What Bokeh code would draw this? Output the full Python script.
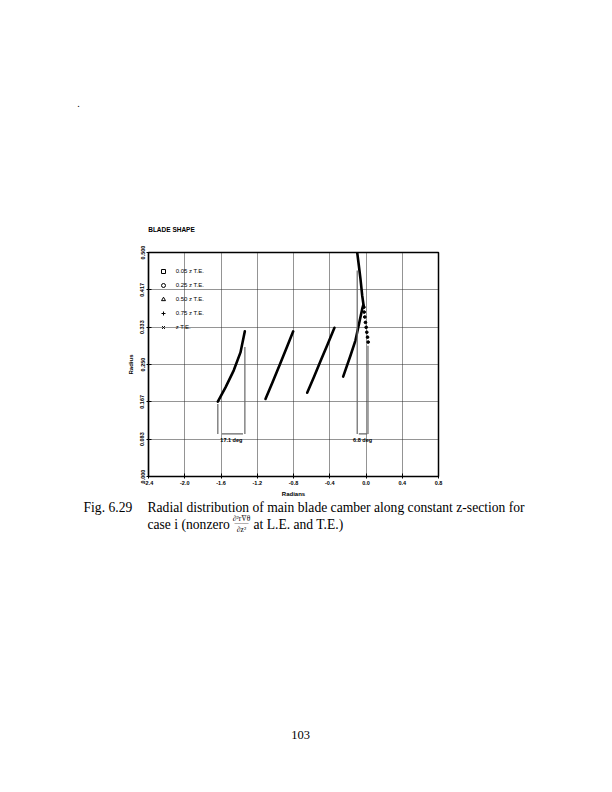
from bokeh.plotting import figure
from bokeh.models import FixedTicker, Label, Legend, LegendItem, Range1d
from bokeh.layouts import column, row
from bokeh.embed import file_html
from bokeh.resources import INLINE
import math
import numpy as np

# ---------------- data ----------------
series_labels = ["0.05 z T.E.", "0.25 z T.E.", "0.50 z T.E.", "0.75 z T.E.", "z T.E."]
series_markers = ["square", "circle", "triangle", "cross", "x"]

# radius / camber angle (radians) for each z-section
r1 = [0.167, 0.199, 0.237, 0.277, 0.324]
t1 = [-1.635, -1.550, -1.459, -1.385, -1.337]

r2 = [0.173, 0.211, 0.249, 0.287, 0.324]
t2 = [-1.109, -1.030, -0.953, -0.877, -0.803]

r3 = [0.187, 0.223, 0.260, 0.296, 0.332]
t3 = [-0.649, -0.572, -0.497, -0.422, -0.348]

r4 = [0.223, 0.270, 0.304, 0.340, 0.374, 0.382]
t4 = [-0.252, -0.171, -0.116, -0.078, -0.042, -0.031]

r5 = [0.500, 0.471, 0.441, 0.404, 0.378, 0.367, 0.356, 0.344, 0.333, 0.322, 0.311, 0.300]
t5 = [-0.097, -0.079, -0.061, -0.042, -0.024, -0.020, -0.013, -0.006, 0.002, 0.009, 0.017, 0.024]
t5_solid_count = 5

# wrap angle brackets (degrees) for first and last sections
wrap_deg = [17.1, 6.8]
wrap_labels = ["17.1 deg", "6.8 deg"]

x_ticks = [-2.4, -2.0, -1.6, -1.2, -0.8, -0.4, 0.0, 0.4, 0.8]
x_tick_labels = ["-2.4", "-2.0", "-1.6", "-1.2", "-0.8", "-0.4", "0.0", "0.4", "0.8"]
y_ticks = [0.0, 0.5 / 6, 1.0 / 6, 0.25, 2.0 / 6, 2.5 / 6, 0.5]
y_tick_labels = ["0.000", "0.083", "0.167", "0.250", "0.333", "0.417", "0.500"]

SANS = "Liberation Sans"
SERIF = "Liberation Serif"
W = 596
TOP_H = 240
CHART_TOP, FRAME_W, FRAME_H, CHART_BOT = 12, 290, 224, 22
CHART_H = CHART_TOP + FRAME_H + CHART_BOT
Y0 = TOP_H + CHART_H
BOT_H = 776 - Y0


def blank_fig(h):
    f = figure(width=W, height=h, x_range=Range1d(0, W), y_range=Range1d(0, h),
               output_backend="svg", toolbar_location=None,
               x_axis_location=None, y_axis_location=None,
               min_border=0, min_border_left=0, min_border_right=0,
               min_border_top=0, min_border_bottom=0)
    f.outline_line_color = None
    f.xgrid.visible = False
    f.ygrid.visible = False
    f.background_fill_color = "white"
    f.border_fill_color = "white"
    return f


def put(f, h, px, py, text, **kw):
    f.add_layout(Label(x=px, y=h - py, text=text, text_color="black", **kw))


# ---------------- top strip ----------------
top = blank_fig(TOP_H)
put(top, TOP_H, 78, 103, ".", text_font=SERIF, text_font_size="10px",
    text_baseline="middle", text_align="center")
put(top, TOP_H, 147.7, 229, "BLADE SHAPE", text_font=SANS, text_font_size="6.5px",
    text_font_style="bold", text_baseline="middle")

# ---------------- chart ----------------
p = figure(frame_width=FRAME_W, frame_height=FRAME_H,
           x_range=Range1d(-2.4, 0.8), y_range=Range1d(0.0, 0.5),
           output_backend="svg", toolbar_location=None,
           min_border_left=148, min_border_right=W - 148 - FRAME_W,
           min_border_top=CHART_TOP, min_border_bottom=CHART_BOT)
p.background_fill_color = "white"
p.border_fill_color = "white"
p.outline_line_color = "black"
p.outline_line_width = 1.5

p.xaxis.ticker = FixedTicker(ticks=x_ticks)
p.xaxis.major_label_overrides = {t: l for t, l in zip(x_ticks, x_tick_labels)}
p.yaxis.ticker = FixedTicker(ticks=y_ticks)
p.yaxis.major_label_overrides = {t: l for t, l in zip(y_ticks, y_tick_labels)}
p.yaxis.major_label_orientation = "vertical"

for ax in (p.xaxis[0], p.yaxis[0]):
    ax.axis_line_color = "black"
    ax.axis_line_width = 1.2
    ax.major_tick_in = 3
    ax.major_tick_out = 2
    ax.major_tick_line_color = "black"
    ax.minor_tick_line_color = None
    ax.major_label_text_font = SANS
    ax.major_label_text_font_size = "5.5px"
    ax.major_label_text_font_style = "bold"
    ax.major_label_text_color = "black"
    ax.axis_label_text_font = SANS
    ax.axis_label_text_font_size = "6px"
    ax.axis_label_text_font_style = "bold"
    ax.axis_label_text_color = "black"

p.xaxis.major_label_standoff = 2
p.yaxis.major_label_standoff = 2
p.xaxis.axis_label = "Radians"
p.yaxis.axis_label = "Radius"
p.xaxis.axis_label_standoff = 3
p.yaxis.axis_label_standoff = 4

for g in (p.xgrid[0], p.ygrid[0]):
    g.grid_line_color = "#2a2a2a"
    g.grid_line_dash = "1 1"
    g.grid_line_width = 1.1
p.xgrid.ticker = FixedTicker(ticks=x_ticks)
p.ygrid.ticker = FixedTicker(ticks=y_ticks)

# curves
for t, r in [(t1, r1), (t2, r2), (t3, r3), (t4, r4)]:
    p.line(t, r, line_color="black", line_width=2.6, line_join="round", line_cap="round")
p.line(t5[:t5_solid_count], r5[:t5_solid_count], line_color="black", line_width=2.6,
       line_join="round", line_cap="round")
p.scatter(t5[t5_solid_count - 1:], r5[t5_solid_count - 1:], marker="circle", size=2.7,
          fill_color="black", line_color="black")

# wrap brackets
bracket_y = 0.095
bracket_top_left = [0.162, 0.460]
bracket_top_right = [0.289, 0.292]
firsts = [t1[0], t5[0]]
bx0, by0, bx1, by1 = [], [], [], []
for i, (x0, deg) in enumerate(zip(firsts, wrap_deg)):
    span = math.radians(deg)
    x1 = x0 + span
    bx0 += [x0, x1, x0 + 0.15 * span]
    by0 += [bracket_top_left[i], bracket_top_right[i], bracket_y]
    bx1 += [x0, x1, x1 - 0.07 * span]
    by1 += [bracket_y, bracket_y, bracket_y]
    p.add_layout(Label(x=x0 + span / 2, y=bracket_y - 0.007, text=wrap_labels[i],
                       text_font=SANS, text_font_size="5.5px", text_font_style="bold",
                       text_align="center", text_baseline="top", text_color="black"))
p.segment(bx0, by0, bx1, by1, line_color="#666666", line_width=1.2)

# legend (marker-only entries)
items = []
for lab, mk in zip(series_labels, series_markers):
    rr = p.scatter(x=np.array([np.nan]), y=np.array([np.nan]), marker=mk, size=6.5,
                   line_color="black", line_width=1.0, fill_color=None)
    items.append(LegendItem(label=lab, renderers=[rr]))
legend = Legend(items=items, location=(9.7, 144.3), margin=0, padding=0,
                glyph_width=10, glyph_height=10, label_height=10, spacing=4,
                label_standoff=8, label_text_font=SANS, label_text_font_size="6px",
                label_text_color="black", background_fill_alpha=0.0,
                border_line_color=None)
p.add_layout(legend, "center")

# ---------------- caption strip ----------------
bot = blank_fig(BOT_H)
def cap(px, py, text, **kw):
    put(bot, BOT_H, px, py - Y0, text, **kw)

CAP = "13.6px"
cap(83, 506, "Fig. 6.29", text_font=SERIF, text_font_size=CAP, text_baseline="middle")
cap(147, 506, "Radial distribution of main blade camber along constant z-section for",
    text_font=SERIF, text_font_size=CAP, text_baseline="middle")
cap(147, 523, "case i (nonzero", text_font=SERIF, text_font_size=CAP,
    text_baseline="middle")
cap(241, 517, "\u2202\u00b2rV\u0304\u03b8", text_font=SERIF, text_font_size="7.5px",
    text_baseline="middle", text_align="center")
cap(241, 521.5, "\u2014\u2014", text_font=SERIF, text_font_size="7px",
    text_baseline="middle", text_align="center")
cap(241, 528, "\u2202z\u00b2", text_font=SERIF, text_font_size="7.5px",
    text_baseline="middle", text_align="center")
cap(253, 523, "at L.E. and T.E.)", text_font=SERIF, text_font_size=CAP,
    text_baseline="middle")
cap(300, 733, "103", text_font=SERIF, text_font_size="12.5px",
    text_baseline="middle", text_align="center")

layout = column(row(top), row(p), row(bot), spacing=0)
open("out.html", "w").write(file_html(layout, INLINE))
